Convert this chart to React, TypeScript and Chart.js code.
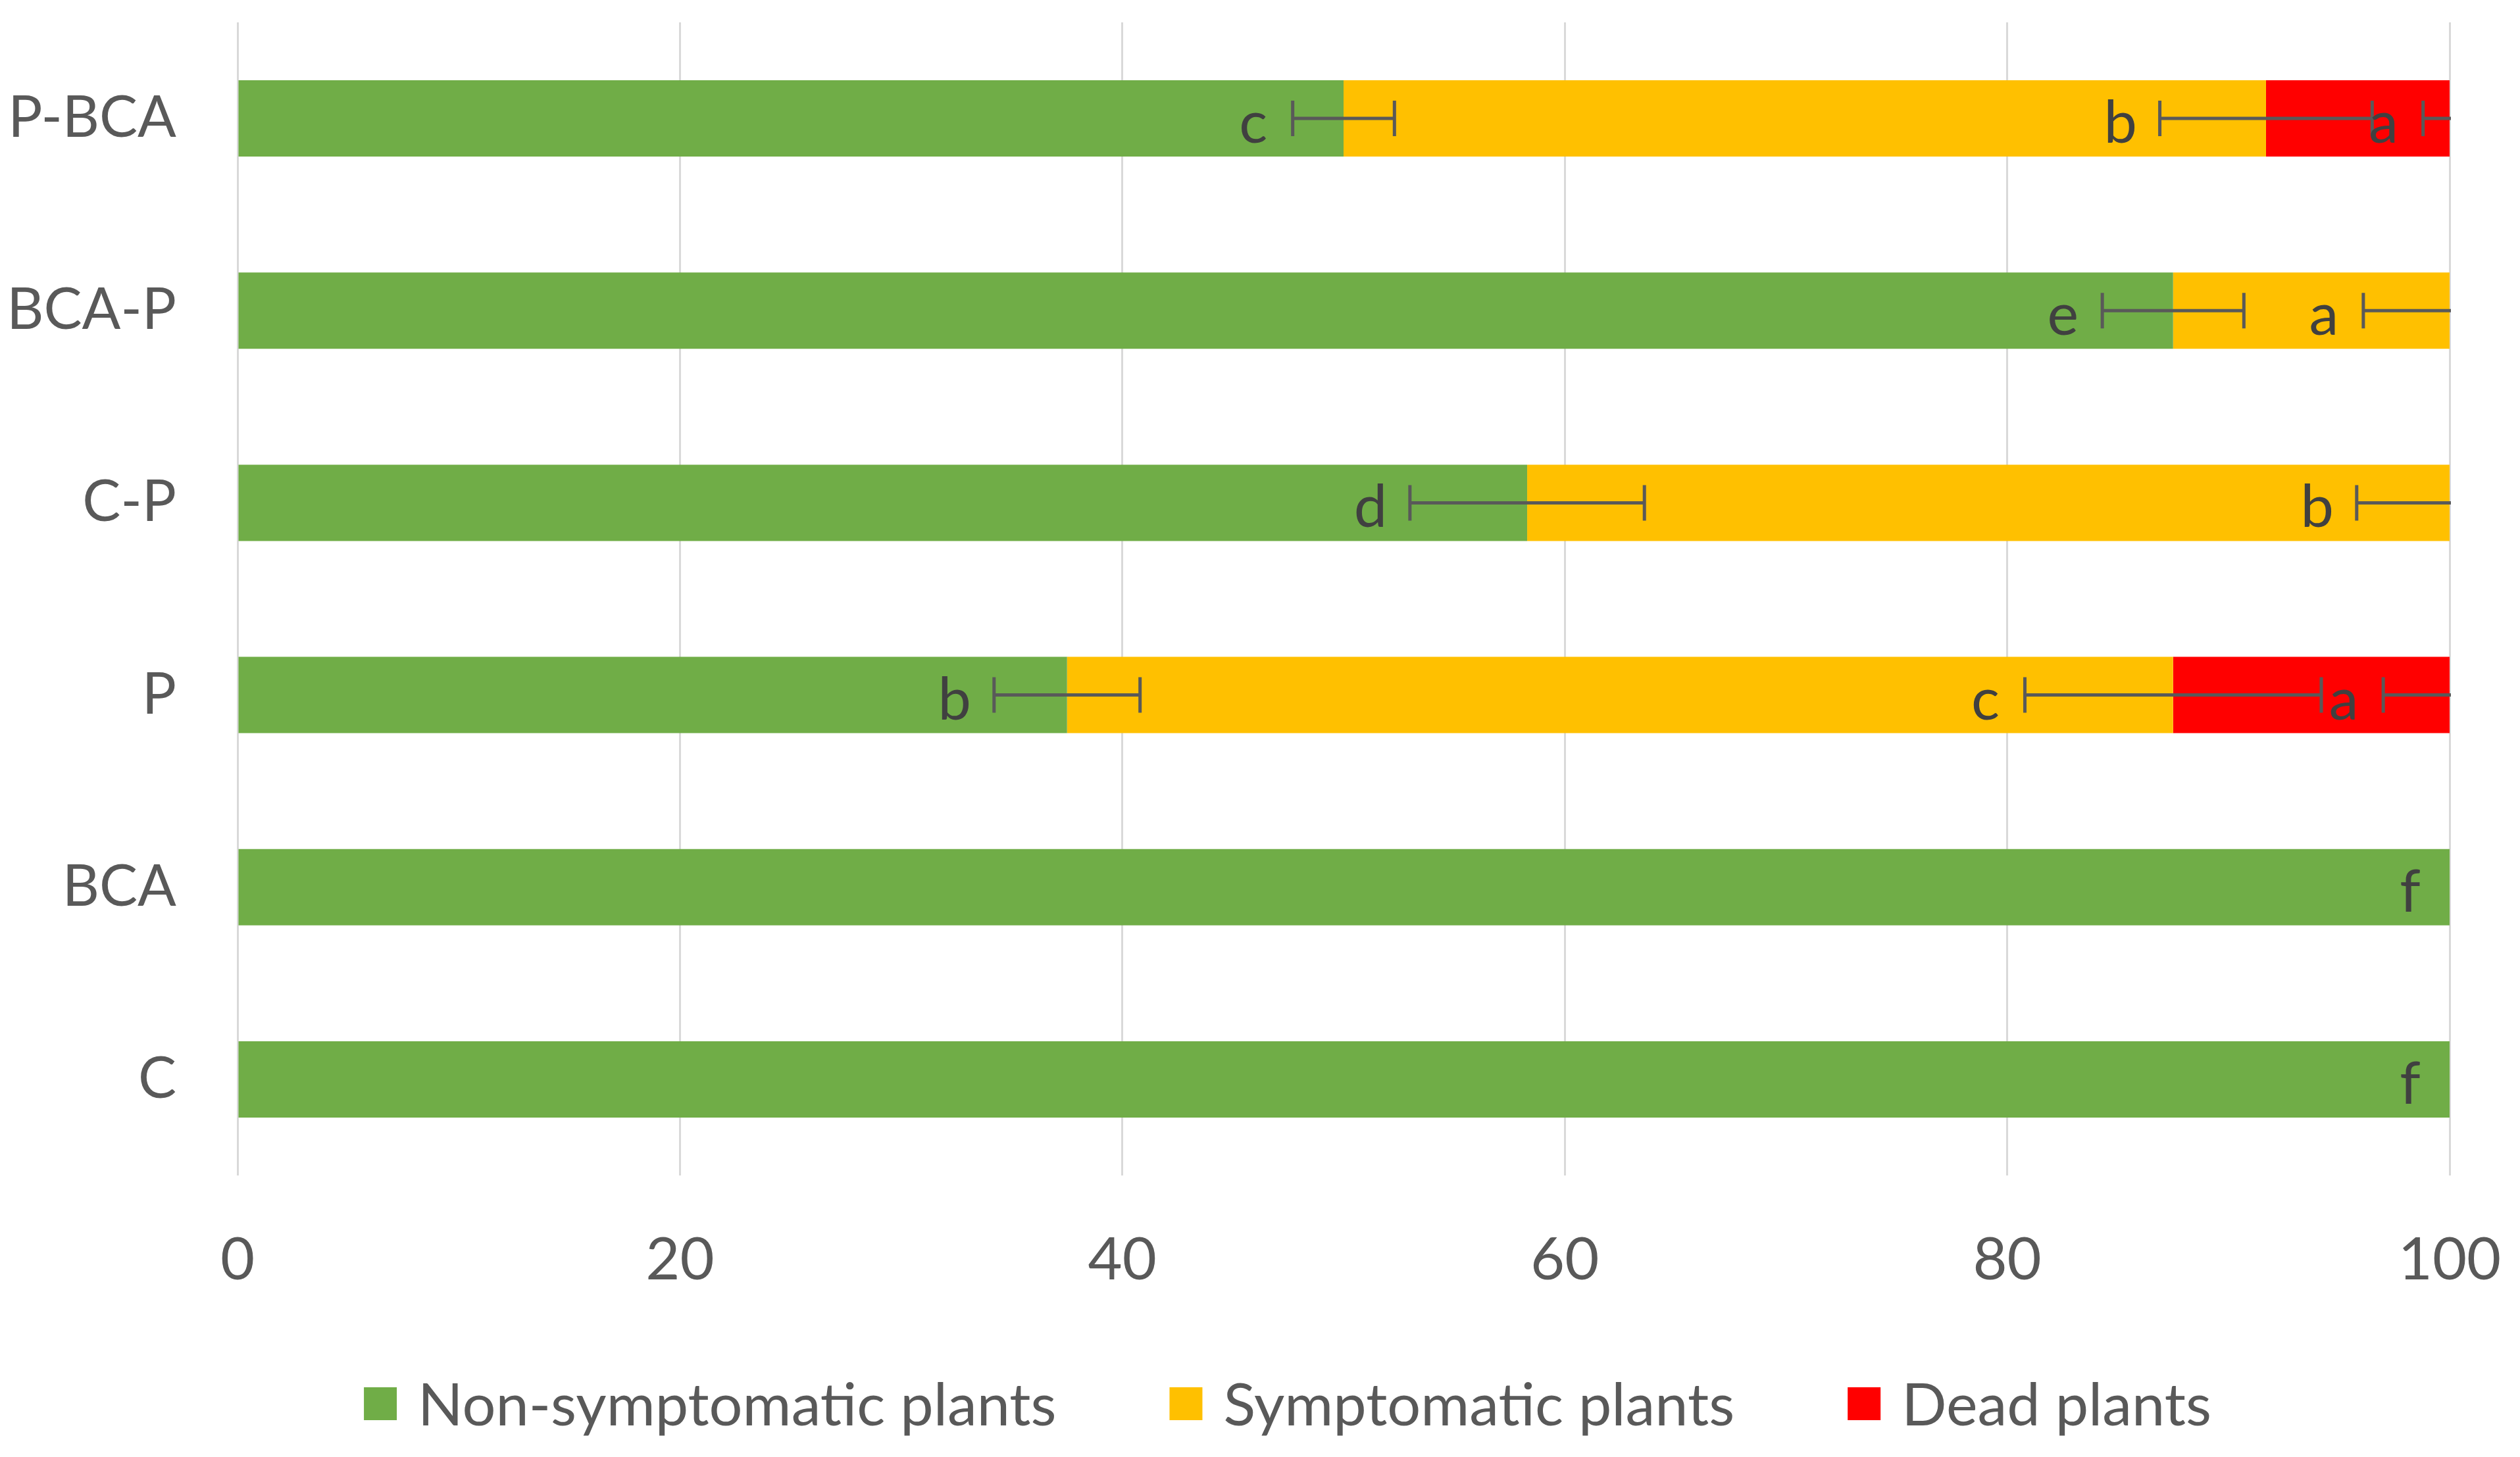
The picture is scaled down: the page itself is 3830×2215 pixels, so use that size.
import React, { useEffect, useRef } from "react";
import { Chart, registerables } from "chart.js";

Chart.register(...registerables);

const categories = ["P-BCA", "BCA-P", "C-P", "P", "BCA", "C"];
const seriesNames = ["Non-symptomatic plants", "Symptomatic plants", "Dead plants"];
const nonSymptomatic = [50, 87.5, 58.3, 37.5, 100, 100];
const symptomatic = [41.7, 12.5, 41.7, 50, 0, 0];
const dead = [8.3, 0, 0, 12.5, 0, 0];
const nonSymptomaticErr = [2.3, 3.2, 5.3, 3.3, 0, 0];
const symptomaticErr = [4.8, 3.9, 4.2, 6.7, 0, 0];
const deadErr = [1.2, 0, 0, 3.0, 0, 0];
const nonSymptomaticLetters = ["c", "e", "d", "b", "f", "f"];
const symptomaticLetters = ["b", "a", "b", "c", "", ""];
const deadLetters = ["a", "", "", "a", "", ""];
const xTicks = [0, 20, 40, 60, 80, 100];

const COLORS = ["#70AD47", "#FFC000", "#FF0000"];
const FONT = "Lato";
const TEXT = "#595959";
const W = 3830;
const H = 2215;

const errorBarPlugin = {
  id: "errorBarsLetters",
  afterDatasetsDraw(chart: any) {
    const ctx = chart.ctx;
    const xs = chart.scales.x;
    const area = chart.chartArea;
    const errs = [nonSymptomaticErr, symptomaticErr, deadErr];
    const letters = [nonSymptomaticLetters, symptomaticLetters, deadLetters];
    const series = [nonSymptomatic, symptomatic, dead];
    const meta0 = chart.getDatasetMeta(0);
    ctx.save();
    ctx.beginPath();
    ctx.rect(area.left, area.top - 5, area.right - area.left + 2, area.bottom - area.top + 10);
    ctx.clip();
    ctx.strokeStyle = "#595959";
    ctx.lineWidth = 5;
    for (let j = 0; j < categories.length; j++) {
      const y = meta0.data[j].y;
      let cum = 0;
      for (let i = 0; i < series.length; i++) {
        cum += series[i][j];
        const e = errs[i][j];
        if (!e || !series[i][j]) continue;
        const xl = xs.getPixelForValue(cum - e);
        const xr = xs.getPixelForValue(cum + e);
        ctx.beginPath();
        ctx.moveTo(xl, y);
        ctx.lineTo(xr, y);
        ctx.moveTo(xl, y - 27);
        ctx.lineTo(xl, y + 27);
        ctx.moveTo(xr, y - 27);
        ctx.lineTo(xr, y + 27);
        ctx.stroke();
      }
    }
    ctx.restore();
    ctx.save();
    ctx.font = `90px ${FONT}`;
    ctx.fillStyle = "#404040";
    ctx.textAlign = "center";
    ctx.textBaseline = "alphabetic";
    for (let j = 0; j < categories.length; j++) {
      const y = meta0.data[j].y;
      let cum = 0;
      for (let i = 0; i < series.length; i++) {
        cum += series[i][j];
        const t = letters[i][j];
        if (!t) continue;
        const capLeft = xs.getPixelForValue(cum - errs[i][j]);
        ctx.fillText(t, capLeft - 60, y + 37);
      }
    }
    ctx.restore();
  },
};

const legendPlugin = {
  id: "customLegend",
  afterDraw(chart: any) {
    const ctx = chart.ctx;
    ctx.save();
    ctx.font = `90px ${FONT}`;
    const box = 50;
    const gap = 32;
    const itemGap = 172;
    const widths = seriesNames.map((n) => ctx.measureText(n).width);
    const total =
      widths.reduce((a, b) => a + b, 0) + seriesNames.length * (box + gap) + (seriesNames.length - 1) * itemGap;
    let x = 1957 - total / 2;
    const baseline = 2167;
    ctx.textBaseline = "alphabetic";
    ctx.textAlign = "left";
    seriesNames.forEach((n, i) => {
      ctx.fillStyle = COLORS[i];
      ctx.fillRect(x, baseline - 8 - box, box, box);
      x += box + gap;
      ctx.fillStyle = TEXT;
      ctx.fillText(n, x, baseline);
      x += widths[i] + itemGap;
    });
    ctx.restore();
  },
};

export default function App() {
  const ref = useRef<HTMLCanvasElement>(null);
  useEffect(() => {
    if (!ref.current) return;
    const chart = new Chart(ref.current, {
      type: "bar",
      data: {
        labels: categories,
        datasets: [nonSymptomatic, symptomatic, dead].map((d, i) => ({
          label: seriesNames[i],
          data: d,
          backgroundColor: COLORS[i],
          borderWidth: 0,
          barPercentage: 0.397,
          categoryPercentage: 1,
        })),
      },
      options: {
        indexAxis: "y",
        responsive: false,
        animation: false,
        devicePixelRatio: 1,
        layout: { padding: { top: 34, right: 107, left: 0, bottom: 0 } },
        plugins: { legend: { display: false }, tooltip: { enabled: false }, title: { display: false } },
        scales: {
          x: {
            stacked: true,
            min: 0,
            max: 100,
            afterBuildTicks: (s: any) => {
              s.ticks = xTicks.map((v) => ({ value: v }));
            },
            afterFit: (s: any) => {
              s.height = H - 1787;
              s.paddingLeft = 0;
              s.paddingRight = 0;
            },
            grid: { color: "#D9D9D9", lineWidth: 3, drawTicks: false },
            border: { display: false },
            ticks: { color: TEXT, font: { family: FONT, size: 90 }, padding: 75, maxRotation: 0 },
          },
          y: {
            stacked: true,
            afterFit: (s: any) => {
              s.width = 361;
              s.paddingTop = 0;
              s.paddingBottom = 0;
            },
            grid: { display: false, drawTicks: false },
            border: { display: false },
            ticks: { color: TEXT, font: { family: FONT, size: 87 }, padding: 93 },
          },
        },
      },
      plugins: [errorBarPlugin, legendPlugin],
    });
    return () => chart.destroy();
  }, []);
  return (
    <div style={{ position: "absolute", left: 0, top: 0, width: W, height: H, background: "#fff" }}>
      <canvas ref={ref} width={W} height={H} style={{ display: "block", width: W, height: H }} />
    </div>
  );
}
